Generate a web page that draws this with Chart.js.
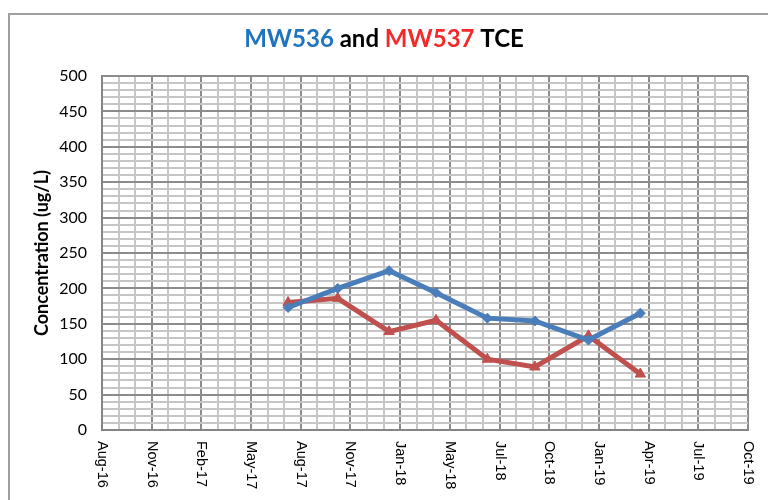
<!DOCTYPE html>
<html>
<head>
<meta charset="utf-8">
<script src="https://cdn.jsdelivr.net/npm/chart.js@4/dist/chart.umd.min.js"></script>
<style>
    body { margin: 0; background: #fff; overflow: hidden; }
    #wrap { position: relative; width: 768px; height: 500px; overflow: hidden; }
    #frame { position: absolute; left: 8px; top: 13px; width: 900px; height: 700px; border: 2px solid #a0a0a0; }
    canvas { position: absolute; left: 0; top: 0; }
</style>
</head>
<body>
<div id="wrap">
    <div id="frame"></div>
    <canvas id="myChart" width="768" height="500"></canvas>
</div>
<script>
// axis start and tick labels (Excel date axis, major unit 90 days)
const axisStart = '2016-08-09';
const majorDays = 90;
const xTickLabels = ['Aug-16', 'Nov-16', 'Feb-17', 'May-17', 'Aug-17', 'Nov-17', 'Jan-18',
    'May-18', 'Jul-18', 'Oct-18', 'Jan-19', 'Apr-19', 'Jul-19', 'Oct-19'];

// sampling dates
const sampleDates = ['2017-07-12', '2017-10-10', '2018-01-11', '2018-04-06',
    '2018-07-08', '2018-10-02', '2019-01-07', '2019-04-11'];

// TCE concentrations (ug/L)
const mw536 = [173, 200, 225, 194, 158, 154, 127, 165];
const mw537 = [180, 186, 139, 155, 100, 89, 133, 79];

const yTicks = [0, 50, 100, 150, 200, 250, 300, 350, 400, 450, 500];

function daysFromStart(s) {
    return (Date.parse(s) - Date.parse(axisStart)) / 86400000;
}

function toPoints(values) {
    return values.map((v, i) => ({ x: daysFromStart(sampleDates[i]), y: v }));
}

const xMax = (xTickLabels.length - 1) * majorDays;

// title with coloured words
const titlePlugin = {
    id: 'colouredTitle',
    afterDraw(chart) {
        const ctx = chart.ctx;
        const parts = [
            { text: 'MW536', color: '#1f74be' },
            { text: ' and ', color: '#000000' },
            { text: 'MW537', color: '#f22a2a' },
            { text: ' TCE', color: '#000000' }
        ];
        ctx.save();
        ctx.font = 'bold 24px Lato';
        ctx.textBaseline = 'alphabetic';
        ctx.textAlign = 'left';
        const total = parts.reduce((w, p) => w + ctx.measureText(p.text).width, 0);
        let x = 384 - total / 2;
        parts.forEach(p => {
            ctx.fillStyle = p.color;
            ctx.fillText(p.text, x, 47);
            x += ctx.measureText(p.text).width;
        });
        ctx.restore();
    }
};

// x tick labels rotated clockwise, as in Excel
const xLabelPlugin = {
    id: 'xLabels',
    afterDraw(chart) {
        const ctx = chart.ctx;
        const scale = chart.scales.x;
        ctx.save();
        ctx.font = '14.5px "Liberation Sans"';
        ctx.fillStyle = '#000';
        ctx.textAlign = 'left';
        ctx.textBaseline = 'middle';
        xTickLabels.forEach((label, i) => {
            const px = scale.getPixelForValue(i * majorDays);
            ctx.save();
            ctx.translate(px, scale.top + 11);
            ctx.rotate(Math.PI / 2);
            ctx.fillText(label, 0, 0);
            ctx.restore();
        });
        ctx.restore();
    }
};

document.addEventListener('DOMContentLoaded', function () {
    const ctx = document.getElementById('myChart').getContext('2d');
    new Chart(ctx, {
        type: 'line',
        data: {
            datasets: [{
                label: 'MW536',
                data: toPoints(mw536),
                borderColor: '#4a7ebb',
                backgroundColor: '#4a7ebb',
                borderWidth: 5,
                pointStyle: 'rectRot',
                pointRadius: 5,
                pointBorderWidth: 1,
                tension: 0
            }, {
                label: 'MW537',
                data: toPoints(mw537),
                borderColor: '#c0504d',
                backgroundColor: '#c0504d',
                borderWidth: 5,
                pointStyle: 'triangle',
                pointRadius: 6,
                pointBorderWidth: 1,
                tension: 0
            }]
        },
        options: {
            responsive: false,
            animation: false,
            layout: { padding: { left: 0, top: 76, right: 20, bottom: 0 } },
            plugins: {
                legend: { display: false },
                tooltip: { enabled: false }
            },
            scales: {
                x: {
                    type: 'linear',
                    min: 0,
                    max: xMax,
                    ticks: { display: false, stepSize: 30 },
                    grid: {
                        drawTicks: false,
                        lineWidth: 2,
                        color: c => (c.tick && c.tick.value % majorDays === 0) ? '#8c8c8c' : '#c6c6c6'
                    },
                    border: { color: '#868686', width: 2 },
                    afterFit(scale) { scale.height = 70; }
                },
                y: {
                    min: 0,
                    max: 500,
                    ticks: {
                        stepSize: 10,
                        autoSkip: false,
                        padding: 15,
                        color: '#000',
                        font: { family: 'Lato', size: 16 },
                        callback: v => yTicks.includes(v) ? String(v) : ''
                    },
                    grid: {
                        drawTicks: false,
                        lineWidth: 2,
                        color: c => (c.tick && c.tick.value % 50 === 0) ? '#8c8c8c' : '#c6c6c6'
                    },
                    border: { color: '#868686', width: 2 },
                    title: {
                        display: true,
                        text: 'Concentration (ug/L)',
                        color: '#000',
                        font: { family: 'Lato', size: 18, weight: 'bold' },
                        padding: { top: 31, bottom: 0 }
                    },
                    afterFit(scale) { scale.width = 102; }
                }
            }
        },
        plugins: [titlePlugin, xLabelPlugin]
    });
});
</script>
</body>
</html>
